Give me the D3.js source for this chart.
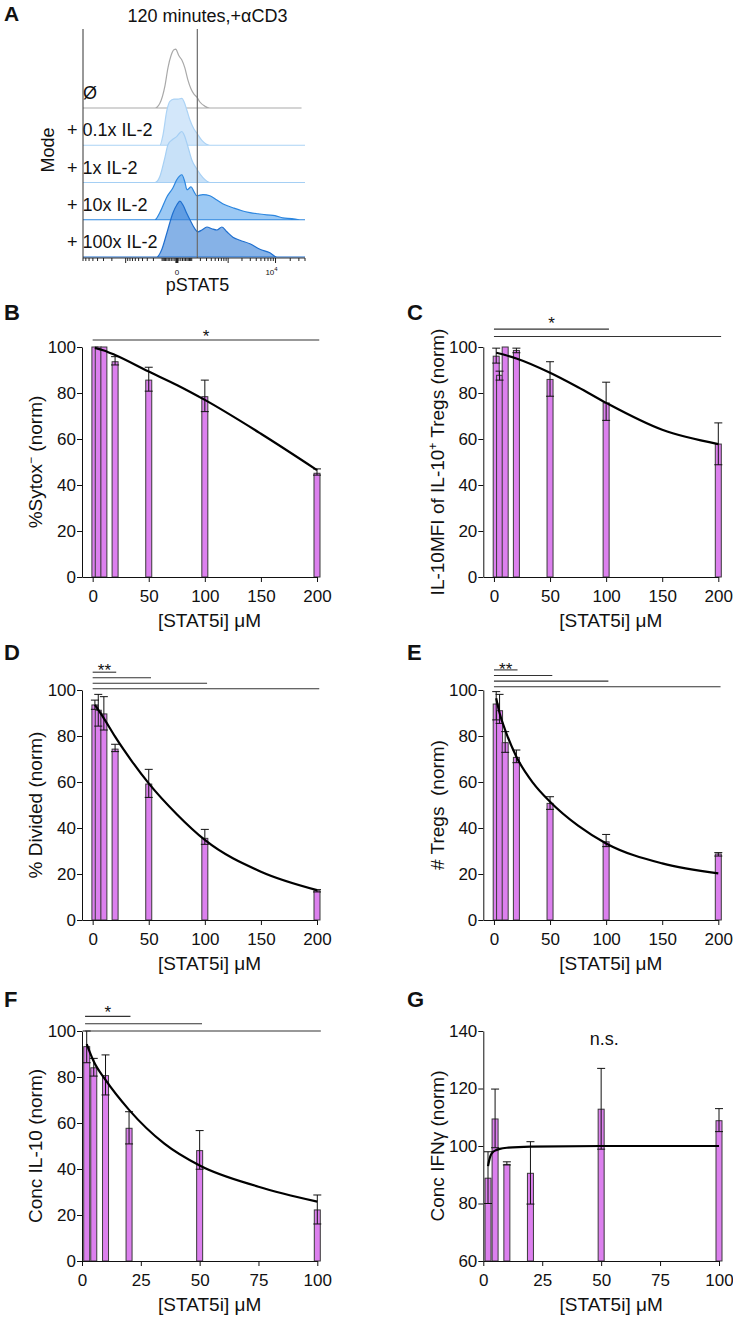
<!DOCTYPE html>
<html>
<head>
<meta charset="utf-8">
<script src="https://cdn.jsdelivr.net/npm/d3@7/dist/d3.min.js"></script>
<style>
body { margin: 0; background: #fff; }
svg { display: block; font-family: "Liberation Sans", Arial, sans-serif; }
</style>
</head>
<body>
<svg id="fig" width="733" height="1317"></svg>
<script>
// ---- Panel A: pSTAT5 histograms, [intensity, % of mode]
var rowLabels = ["Ø", "+ 0.1x IL-2", "+ 1x IL-2", "+ 10x IL-2", "+ 100x IL-2"]
var histNone = [[-180,0],[-122,8],[-75,37],[-52,67],[-32,87],[-15,97],[-5,98],[0,95],[10,87],[26,80],[45,67],[67,47],[93,32],[122,23],[155,18],[193,10],[271,3],[368,0]]
var hist01 = [[-122,0],[-92,17],[-60,58],[-39,73],[-15,77],[5,77],[26,78],[39,73],[60,58],[84,42],[122,27],[155,20],[222,8],[368,0]]
var hist1 = [[-180,0],[-122,10],[-75,42],[-52,63],[-21,72],[0,77],[15,83],[26,85],[39,80],[67,60],[102,37],[155,22],[238,8],[368,0]]
var hist10 = [[-180,0],[-122,12],[-60,38],[-21,53],[0,67],[26,75],[45,63],[60,50],[75,52],[93,55],[122,47],[155,40],[238,42],[368,40],[550,33],[845,25],[1274,20],[1995,15],[2945,12],[4330,10],[6650,8],[9710,7],[14160,3],[21630,2],[31540,0]]
var hist100 = [[-155,0],[-102,13],[-60,40],[-21,73],[0,87],[15,93],[32,87],[60,72],[84,62],[132,47],[167,42],[222,45],[307,50],[414,47],[550,45],[721,50],[938,42],[1274,33],[1807,28],[2945,22],[4760,13],[7660,7],[10680,0]]
var gateValue = 160
var pstatLabels = ["0", "10"]   // 0 and 10^4

// ---- Panels B-G: [STAT5i] in uM
var conc200 = [2, 5, 10, 20, 50, 100, 200]
var conc100 = [2, 5, 10, 20, 50, 100]
var ticks200 = [0, 50, 100, 150, 200]
var ticks100 = [0, 25, 50, 75, 100]
var yTicks100 = [0, 20, 40, 60, 80, 100]
var yTicks140 = [60, 80, 100, 120, 140]

// B: %Sytox- (norm)
var sytoxMean = [100, 100, 100, 93.6, 85.6, 78.4, 45.1]
var sytoxHi = [100, 100, 100, 95.8, 91.2, 85.6, 47]
var sytoxLo = [100, 100, 100, 92.2, 80.8, 71.9, 44.3]
var sytoxFitX = [2, 10, 20, 50, 75, 100, 150, 200]
var sytoxFitY = [99.6, 98.5, 96.5, 89.3, 83.5, 77, 62.3, 46.5]
var sytoxSig = [202]

// C: IL-10 MFI of IL-10+ Tregs (norm)
var mfiMean = [96, 87.7, 100, 98.5, 85.9, 75.7, 57.8]
var mfiHi = [99.5, 89.5, 100, 99.5, 93.6, 84.7, 67]
var mfiLo = [93, 85.6, 100, 97.5, 78.6, 68.1, 48.8]
var mfiFitX = [2, 10, 20, 50, 75, 100, 150, 200]
var mfiFitY = [97.5, 96.5, 95, 88.8, 82.5, 75.7, 64, 57.8]
var mfiSig = [102.5, 202.5]

// D: % Divided (norm)
var divMean = [93.5, 91.2, 89.6, 74.3, 59.1, 35.5, 12.7]
var divHi = [95.6, 98.1, 97.1, 76.4, 65.5, 39.4, 13.2]
var divLo = [91.6, 84.3, 82.6, 73.2, 53.3, 32.9, 12.2]
var divFitX = [2, 10, 20, 35, 50, 75, 100, 150, 200]
var divFitY = [93.5, 87.7, 79.7, 69, 59.4, 46, 34.8, 21, 13]
var divSig = [21, 52, 102, 202]

// E: # Tregs (norm)
var tregMean = [93.9, 91, 77.1, 70.7, 50.7, 34, 28.7]
var tregHi = [99.3, 98.1, 81.9, 73.9, 53.6, 37.2, 29.3]
var tregLo = [87, 85.5, 72.9, 68.4, 48.1, 31.9, 27.8]
var tregFitX = [2, 5, 10, 20, 35, 50, 75, 100, 150, 200]
var tregFitY = [96.4, 90, 82.6, 71, 59.5, 51.4, 41, 33.3, 24.6, 20.3]
var tregSig = [21, 52, 102, 202]

// F: Conc IL-10 (norm)
var il10Mean = [93.2, 84, 80.6, 57.7, 48, 22.2]
var il10Hi = [100, 88.1, 89.6, 64.9, 56.7, 28.7]
var il10Lo = [86.2, 80.4, 72.2, 50.9, 39.9, 16.1]
var il10FitX = [2, 5, 10, 20, 35, 50, 75, 100]
var il10FitY = [94.3, 86.7, 78.7, 65.7, 51, 41.5, 32.3, 25.8]
var il10Sig = [20.6, 51, 101.5]

// G: Conc IFNg (norm)
var ifnMean = [88.8, 109.4, 93.6, 90.5, 112.8, 108.8]
var ifnHi = [98, 119.8, 94.5, 101.5, 127, 113]
var ifnLo = [80, 99.4, 93.4, 79.8, 98.9, 105]
var ifnFitX = [2, 2.5, 3, 4, 5, 7, 10, 20, 50, 100]
var ifnFitY = [93, 95, 96.5, 97.8, 98.4, 99, 99.4, 99.8, 100, 100]

var svg = d3.select("#fig")
var ink = "#111"
var barFill = "#dc80ee"
var barW = 6

// ================= Panel A =================
function drawHistograms() {
    var g = svg.append("g")
    var xA = d3.scaleSymlog().constant(100).domain([-8000, 40000]).range([83, 305])
    var rowY = d3.scaleLinear().domain([0, rowLabels.length - 1]).range([108, 257])
    var rowH = 60
    var hists = [histNone, hist01, hist1, hist10, hist100]
    var fills = ["none", "#d3e7fa", "#c8e1f8", "#5aa5ec", "#3c82d8"]
    var fillOp = [0, 1, 1, 0.6, 0.62]
    var strokes = ["#a9a9a9", "#acd3f5", "#a5cff4", "#2c86df", "#1f6fcf"]
    var top = 29, axisY = 258

    hists.forEach(function(h, i) {
        var base = rowY(i)
        var yh = d3.scaleLinear().domain([0, 100]).range([base, base - rowH])
        var pts = [[xA.domain()[0], 0]].concat(h, [[i === 0 ? 34000 : xA.domain()[1], 0]])
        var area = d3.area()
            .x(d => xA(d[0]))
            .y0(base)
            .y1(d => yh(d[1]))
            .curve(d3.curveMonotoneX)
        g.append("path")
            .attr("d", area(pts))
            .attr("fill", fills[i])
            .attr("fill-opacity", fillOp[i])
            .attr("stroke", strokes[i])
            .attr("stroke-width", 1.2)
    })

    // row labels
    rowLabels.forEach(function(t, i) {
        g.append("text")
            .attr("x", i === 0 ? 83 : 67)
            .attr("y", rowY(i) - 9)
            .attr("font-size", 18)
            .attr("fill", ink)
            .text(t)
    })

    // gate line
    g.append("line")
        .attr("x1", xA(gateValue)).attr("x2", xA(gateValue))
        .attr("y1", top).attr("y2", axisY)
        .attr("stroke", "#6b6b6b").attr("stroke-width", 1.2)

    // frame left + bottom axis
    g.append("line").attr("x1", 83).attr("x2", 83).attr("y1", top).attr("y2", axisY)
        .attr("stroke", "#333").attr("stroke-width", 1)
    g.append("line").attr("x1", 83).attr("x2", 305).attr("y1", axisY).attr("y2", axisY)
        .attr("stroke", "#333").attr("stroke-width", 1)

    var minorTicks = [0]
    ;[10, 100, 1000, 10000].forEach(function(dec) {
        for (var k = 1; k < 10; k++) {
            var v = dec * k
            if (v <= 40000) minorTicks.push(v)
            if (v <= 8000) minorTicks.push(-v)
        }
    })
    g.selectAll(".mt").data(minorTicks).join("line")
        .attr("x1", d => xA(d)).attr("x2", d => xA(d))
        .attr("y1", axisY).attr("y2", d => (d === 0 || Math.abs(d) === 1000 || d === 10000) ? axisY + 5 : axisY + 3)
        .attr("stroke", "#222").attr("stroke-width", d => d === 0 ? 3 : 1)

    g.append("text").attr("x", xA(0)).attr("y", 275).attr("font-size", 8)
        .attr("text-anchor", "middle").attr("fill", ink).text(pstatLabels[0])
    var t4 = g.append("text").attr("x", xA(10000) - 4).attr("y", 275).attr("font-size", 8)
        .attr("text-anchor", "middle").attr("fill", ink)
    t4.append("tspan").text(pstatLabels[1])
    t4.append("tspan").attr("font-size", 6).attr("dy", -4).text("4")

    g.append("text").attr("x", 197.5).attr("y", 291).attr("font-size", 18)
        .attr("text-anchor", "middle").attr("fill", ink).text("pSTAT5")
    g.append("text").attr("transform", "translate(48,150) rotate(-90)").attr("y", 6)
        .attr("font-size", 18).attr("text-anchor", "middle").attr("fill", ink).text("Mode")
    g.append("text").attr("x", 207.5).attr("y", 22).attr("font-size", 18)
        .attr("text-anchor", "middle").attr("fill", ink).text("120 minutes,+αCD3")
    g.append("text").attr("x", 4).attr("y", 21).attr("font-size", 21)
        .attr("font-weight", "bold").attr("fill", ink).text("A")
}

// ================= Panels B-G =================
var panels = [
    {letter: "B", conc: conc200, mean: sytoxMean, hi: sytoxHi, lo: sytoxLo, fitX: sytoxFitX, fitY: sytoxFitY,
     sig: sytoxSig, sigText: "*", ylab: [["%Sytox"], ["−", 1], [" (norm)"]],
     left: 82, right: 317, xMin: -9.5, xTicks: ticks200, top: 347, bottom: 577, yDom: [0, 100], yTicks: yTicks100,
     lx: 4, ly: 320, ylx: 35, sigStart: 0, sigBottom: 7, sigStep: 7, sigDy: 2},
    {letter: "C", conc: conc200, mean: mfiMean, hi: mfiHi, lo: mfiLo, fitX: mfiFitX, fitY: mfiFitY,
     sig: mfiSig, sigText: "*", ylab: [["IL-10MFI of IL-10"], ["+", 1], [" Tregs (norm)"]],
     left: 483.3, right: 718.3, xMin: -9.5, xTicks: ticks200, top: 347, bottom: 577, yDom: [0, 100], yTicks: yTicks100,
     lx: 407, ly: 320, ylx: 437, sigStart: 0, sigBottom: 10.5, sigStep: 7.4, sigDy: 0},
    {letter: "D", conc: conc200, mean: divMean, hi: divHi, lo: divLo, fitX: divFitX, fitY: divFitY,
     sig: divSig, sigText: "**", ylab: [["% Divided (norm)"]],
     left: 82, right: 317, xMin: -9.5, xTicks: ticks200, top: 690, bottom: 920, yDom: [0, 100], yTicks: yTicks100,
     lx: 4, ly: 660, ylx: 35, sigStart: 0, sigBottom: 1.3, sigStep: 5.5, sigDy: 4},
    {letter: "E", conc: conc200, mean: tregMean, hi: tregHi, lo: tregLo, fitX: tregFitX, fitY: tregFitY,
     sig: tregSig, sigText: "**", ylab: [["# Tregs  (norm)"]],
     left: 483.3, right: 718.3, xMin: -9.5, xTicks: ticks200, top: 690, bottom: 920, yDom: [0, 100], yTicks: yTicks100,
     lx: 407, ly: 660, ylx: 437, sigStart: 0, sigBottom: 3.3, sigStep: 5.6, sigDy: 5},
    {letter: "F", conc: conc100, mean: il10Mean, hi: il10Hi, lo: il10Lo, fitX: il10FitX, fitY: il10FitY,
     sig: il10Sig, sigText: "*", ylab: [["Conc IL-10 (norm)"]],
     left: 82, right: 317.3, xMin: 0, xTicks: ticks100, top: 1031, bottom: 1261, yDom: [0, 100], yTicks: yTicks100,
     lx: 4, ly: 1007, ylx: 35, sigStart: 1.3, sigBottom: 0, sigStep: 7.3, sigDy: 2},
    {letter: "G", conc: conc100, mean: ifnMean, hi: ifnHi, lo: ifnLo, fitX: ifnFitX, fitY: ifnFitY,
     sig: [], sigText: "n.s.", ylab: [["Conc IFNγ (norm)"]],
     left: 483.3, right: 719, xMin: 0, xTicks: ticks100, top: 1031, bottom: 1261, yDom: [60, 140], yTicks: yTicks140,
     lx: 407, ly: 1007, ylx: 437}
]

function styleAxis(sel) {
    sel.attr("font-family", null).attr("font-size", null)
    sel.selectAll("path,line").attr("stroke", ink).attr("stroke-width", 1)
    sel.selectAll("text").attr("font-size", 17).attr("fill", ink)
}

function drawPanel(p) {
    var g = svg.append("g")
    var x = d3.scaleLinear().domain([p.xMin, p.xTicks[p.xTicks.length - 1]]).range([p.left, p.right])
    var y = d3.scaleLinear().domain(p.yDom).range([p.bottom, p.top])
    var idx = d3.range(p.conc.length)

    // bars
    g.selectAll(".bar").data(idx).join("rect")
        .attr("x", i => x(p.conc[i]) - barW / 2)
        .attr("y", i => y(p.mean[i]))
        .attr("width", barW)
        .attr("height", i => y(p.yDom[0]) - y(p.mean[i]))
        .attr("fill", barFill)
        .attr("stroke", "#3a3a3a")
        .attr("stroke-width", 1)

    // error bars
    var eb = g.selectAll(".err").data(idx.filter(i => p.hi[i] !== p.lo[i])).join("g")
        .attr("stroke", ink).attr("stroke-width", 1)
    eb.append("line")
        .attr("x1", i => x(p.conc[i])).attr("x2", i => x(p.conc[i]))
        .attr("y1", i => y(p.hi[i])).attr("y2", i => y(p.lo[i]))
    ;["hi", "lo"].forEach(function(k) {
        eb.append("line")
            .attr("x1", i => x(p.conc[i]) - 4).attr("x2", i => x(p.conc[i]) + 4)
            .attr("y1", i => y(p[k][i])).attr("y2", i => y(p[k][i]))
    })

    // fitted curve
    var line = d3.line()
        .x(i => x(p.fitX[i]))
        .y(i => y(p.fitY[i]))
        .curve(d3.curveMonotoneX)
    g.append("path")
        .attr("d", line(d3.range(p.fitX.length)))
        .attr("fill", "none")
        .attr("stroke", "#000")
        .attr("stroke-width", 2.2)

    // axes
    g.append("g").attr("transform", "translate(0," + p.bottom + ")")
        .call(d3.axisBottom(x).tickValues(p.xTicks).tickSize(5).tickSizeOuter(0).tickPadding(8))
        .call(styleAxis)
    g.append("g").attr("transform", "translate(" + p.left + ",0)")
        .call(d3.axisLeft(y).tickValues(p.yTicks).tickSize(5).tickSizeOuter(0).tickPadding(1))
        .call(styleAxis)

    // axis titles
    g.append("text")
        .attr("x", (p.left + p.right) / 2 + 10).attr("y", p.bottom + 50)
        .attr("text-anchor", "middle").attr("font-size", 19).attr("fill", ink)
        .text("[STAT5i] μM")
    var yl = g.append("text")
        .attr("transform", "translate(" + p.ylx + "," + (p.top + p.bottom) / 2 + ") rotate(-90)")
        .attr("y", 7)
        .attr("text-anchor", "middle").attr("font-size", 19).attr("fill", ink)
        .style("white-space", "pre")
    var shift = 0
    p.ylab.forEach(function(part) {
        var ts = yl.append("tspan").text(part[0])
        if (part[1]) {
            ts.attr("font-size", 12).attr("dy", -7)
            shift = 7
        } else if (shift) {
            ts.attr("dy", shift)
            shift = 0
        }
    })

    // panel letter
    g.append("text").attr("x", p.lx).attr("y", p.ly).attr("font-size", 22)
        .attr("font-weight", "bold").attr("fill", ink).text(p.letter)

    // significance
    if (p.sig.length) {
        var n = p.sig.length
        var y100 = y(100)
        var lineY = k => y100 - p.sigBottom - (n - 1 - k) * p.sigStep
        g.selectAll(".sig").data(p.sig).join("line")
            .attr("x1", x(p.sigStart)).attr("x2", d => x(d))
            .attr("y1", (d, k) => lineY(k)).attr("y2", (d, k) => lineY(k))
            .attr("stroke", "#333").attr("stroke-width", 1.1)
        g.append("text")
            .attr("x", (x(p.sigStart) + x(p.sig[0])) / 2)
            .attr("y", lineY(0) + p.sigDy)
            .attr("text-anchor", "middle").attr("font-size", 17).attr("fill", ink)
            .text(p.sigText)
    } else {
        g.append("text")
            .attr("x", (p.left + p.right) / 2 + 3).attr("y", p.top + 14)
            .attr("text-anchor", "middle").attr("font-size", 18).attr("fill", ink)
            .text(p.sigText)
    }
}

drawHistograms()
panels.forEach(drawPanel)
</script>
</body>
</html>
